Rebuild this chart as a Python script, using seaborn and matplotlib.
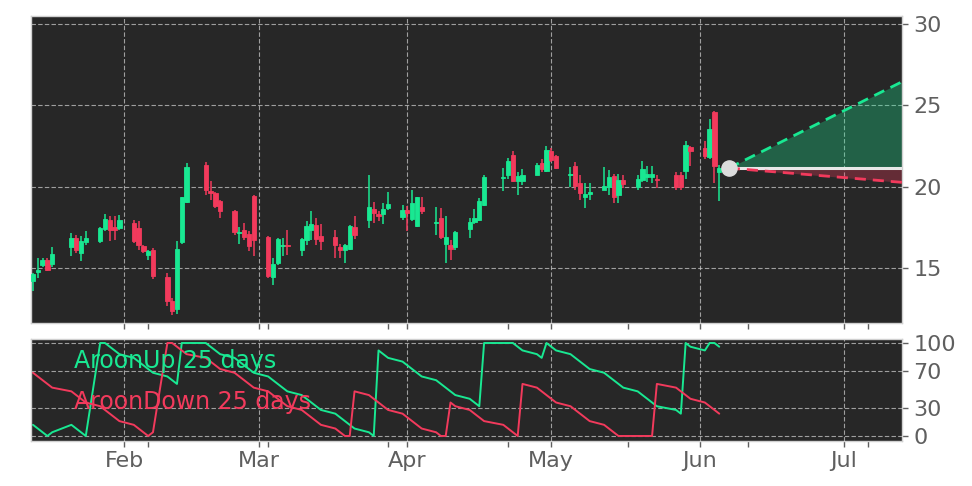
import pandas as pd
import seaborn as sns
import matplotlib.pyplot as plt
import matplotlib.dates as mdates
from matplotlib.ticker import FixedLocator

sns.set_theme(style='darkgrid')
plt.rcParams['font.family'] = ['DejaVu Sans']

# TRADING DAYS (2025)
days = ['01-13', '01-14', '01-15', '01-16', '01-17', '01-21', '01-22', '01-23', '01-24',
        '01-27', '01-28', '01-29', '01-30', '01-31',
        '02-03', '02-04', '02-05', '02-06', '02-07', '02-10', '02-11', '02-12', '02-13', '02-14',
        '02-18', '02-19', '02-20', '02-21', '02-24', '02-25', '02-26', '02-27', '02-28',
        '03-03', '03-04', '03-05', '03-06', '03-07', '03-10', '03-11', '03-12', '03-13', '03-14',
        '03-17', '03-18', '03-19', '03-20', '03-21', '03-24', '03-25', '03-26', '03-27', '03-28', '03-31',
        '04-01', '04-02', '04-03', '04-04', '04-07', '04-08', '04-09', '04-10', '04-11',
        '04-14', '04-15', '04-16', '04-17', '04-21', '04-22', '04-23', '04-24', '04-25',
        '04-28', '04-29', '04-30',
        '05-01', '05-02', '05-05', '05-06', '05-07', '05-08', '05-09', '05-12', '05-13', '05-14',
        '05-15', '05-16', '05-19', '05-20', '05-21', '05-22', '05-23', '05-27', '05-28', '05-29', '05-30',
        '06-02', '06-03', '06-04', '06-05']

open_ = [14.19, 14.74, 15.21, 15.52, 15.28, 16.28, 16.85, 15.93, 16.58, 16.64, 17.40, 17.98, 17.50, 17.47,
         17.77, 17.47, 16.38, 15.83, 16.13, 14.44, 13.01, 12.50, 16.58, 19.06, 21.35, 19.75, 19.61, 19.10,
         18.53, 17.18, 17.36, 17.12, 19.45,
         16.91, 14.44, 15.32, 16.38, 16.42, 16.09, 16.75, 17.36, 17.67, 16.99, 16.91, 16.28, 16.09, 16.18,
         17.50, 17.98, 18.63, 18.34, 18.34, 18.70, 18.12,
         18.59, 18.02, 17.61, 18.73, 17.78, 18.08, 16.48, 16.44, 16.28, 17.40, 17.81, 17.98, 18.90, 20.52,
         20.74, 21.96, 20.33, 20.37, 20.74, 21.49, 20.98,
         22.17, 21.90, 20.70, 21.25, 20.23, 19.40, 19.55, 19.82, 19.98, 20.68, 19.51, 20.43, 19.98, 20.43,
         20.60, 20.62, 20.49, 20.74, 20.74, 20.98, 22.47,
         22.37, 21.80, 24.62, 20.88]
high = [14.70, 15.63, 15.60, 15.60, 16.28, 17.16, 17.06, 16.95, 17.26, 17.50, 18.34, 18.18, 18.18, 18.28,
        17.98, 17.87, 16.45, 16.10, 16.24, 14.71, 13.19, 16.64, 19.40, 21.49, 21.55, 20.33, 19.65, 19.20,
        18.60, 17.53, 17.77, 17.26, 19.50,
        17.00, 15.64, 16.85, 16.85, 17.36, 16.85, 17.87, 18.53, 18.08, 17.73, 17.36, 16.50, 16.50, 17.65,
        18.22, 20.74, 19.04, 18.50, 19.00, 19.65, 18.90,
        18.80, 19.82, 19.40, 19.40, 18.75, 18.69, 18.18, 16.70, 17.30, 18.10, 18.65, 19.30, 20.70, 21.15,
        21.75, 22.20, 20.90, 21.10, 21.45, 21.70, 22.50,
        22.40, 21.95, 21.20, 21.50, 20.70, 20.20, 20.20, 21.20, 21.00, 20.80, 20.80, 20.70, 20.70, 21.60,
        21.30, 21.30, 20.70, 20.90, 20.90, 22.80, 22.50,
        22.80, 24.15, 24.65, 21.35]
low = [13.58, 14.40, 15.10, 14.80, 15.07, 15.72, 15.93, 15.42, 16.44, 16.55, 17.26, 16.64, 16.75, 17.36,
       16.55, 16.13, 15.95, 15.52, 14.34, 12.66, 12.15, 12.21, 16.50, 19.00, 19.51, 19.20, 18.69, 18.08,
       17.06, 16.50, 16.75, 16.03, 15.72,
       14.40, 13.99, 15.20, 15.72, 15.83, 15.72, 16.44, 16.75, 16.44, 16.13, 15.63, 15.63, 15.32, 16.10,
       16.80, 17.47, 17.77, 17.87, 17.70, 18.60, 17.97,
       17.26, 17.90, 17.55, 18.30, 17.06, 16.80, 15.32, 15.52, 16.10, 16.85, 17.70, 17.90, 18.80, 19.71,
       20.50, 20.30, 19.51, 20.10, 20.70, 20.90, 20.90,
       21.50, 21.10, 20.00, 19.80, 19.20, 18.70, 19.20, 19.80, 19.50, 19.00, 19.00, 19.90, 19.80, 20.30,
       20.30, 20.20, 19.90, 19.80, 19.80, 20.50, 21.30,
       21.70, 21.70, 20.23, 19.10]
close = [14.66, 14.91, 15.52, 14.91, 15.87, 16.85, 16.13, 16.64, 16.85, 17.47, 18.02, 17.36, 17.36, 17.98,
         16.64, 16.44, 16.03, 16.07, 14.54, 12.96, 12.35, 16.20, 19.34, 21.21, 19.82, 19.61, 18.83, 18.53,
         17.20, 17.25, 16.91, 16.38, 16.75,
         14.54, 15.28, 16.79, 16.42, 16.36, 16.79, 17.56, 17.73, 16.79, 16.69, 16.44, 16.09, 16.44, 17.61,
         17.06, 18.73, 18.39, 18.18, 18.63, 18.96, 18.59,
         18.39, 19.00, 19.34, 18.48, 17.84, 16.89, 16.91, 16.20, 17.20, 17.83, 18.08, 19.10, 20.57, 20.62,
         21.60, 20.37, 20.63, 20.74, 21.35, 21.09, 22.23,
         21.66, 21.15, 20.78, 20.06, 19.61, 19.55, 19.65, 20.06, 20.57, 19.37, 20.43, 20.18, 20.49, 21.10,
         20.80, 20.80, 20.39, 19.98, 20.00, 22.58, 22.21,
         21.86, 23.54, 21.25, 21.15]

aroon_up = [12, 8, 4, 0, 4, 12, 8, 4, 0, 100, 100, 96, 92, 88,
            84, 80, 76, 72, 68, 64, 60, 56, 100, 100, 100, 96, 92, 88, 84, 80, 76, 72, 68,
            64, 60, 56, 52, 48, 44, 40, 36, 32, 28, 24, 20, 16, 12, 8, 4, 0, 92, 88, 84, 80,
            76, 72, 68, 64, 60, 56, 52, 48, 44, 40, 36, 32, 100, 100, 100, 100, 96, 92, 88, 84, 100,
            96, 92, 88, 84, 80, 76, 72, 68, 64, 60, 56, 52, 48, 44, 40, 36, 32, 28, 24, 100, 96,
            92, 100, 100, 96]
aroon_down = [68, 64, 60, 56, 52, 48, 44, 40, 36, 32, 28, 24, 20, 16,
              12, 8, 4, 0, 4, 100, 100, 96, 92, 88, 84, 80, 76, 72, 68, 64, 60, 56, 52,
              48, 44, 40, 36, 32, 28, 24, 20, 16, 12, 8, 4, 0, 0, 48, 44, 40, 36, 32, 28, 24,
              20, 16, 12, 8, 4, 0, 0, 36, 32, 28, 24, 20, 16, 12, 8, 4, 0, 56, 52, 48, 44,
              40, 36, 32, 28, 24, 20, 16, 12, 8, 4, 0, 0, 0, 0, 0, 0, 56, 52, 48, 44, 40,
              36, 32, 28, 24]

# FORECAST CONE
fc_dates = ['2025-06-07 00:00', '2025-07-13 02:00']
fc_base = [21.15, 21.15]
fc_up = [21.15, 26.45]
fc_down = [21.15, 20.27]

minor_ticks = ['2025-02-06', '2025-03-03', '2025-03-28', '2025-04-22', '2025-05-17', '2025-06-11', '2025-07-06']

GREEN = '#19e892'
RED = '#f23a5c'
BG = '#272727'
GRAY = '#5f5f5f'

df = pd.DataFrame({'date': pd.to_datetime(['2025-' + d for d in days]),
                   'open': open_, 'high': high, 'low': low, 'close': close,
                   'up': aroon_up, 'down': aroon_down})
df['color'] = [GREEN if c >= o else RED for o, c in zip(df['open'], df['close'])]
fc = pd.DataFrame({'date': pd.to_datetime(fc_dates, format='%Y-%m-%d %H:%M'),
                   'base': fc_base, 'up': fc_up, 'down': fc_down})

fig = plt.figure(figsize=(9.72, 4.86), dpi=100, facecolor='white')
ax = fig.add_axes([31 / 972, 1 - 323 / 486, 871 / 972, 307 / 486])
ax2 = fig.add_axes([31 / 972, 1 - 441 / 486, 871 / 972, 102 / 486], sharex=ax)

# CANDLES
ax.vlines(df['date'], df['low'], df['high'], color=df['color'], lw=1.1, zorder=3)
ax.bar(df['date'], df['close'] - df['open'], bottom=df['open'], width=0.9,
       color=df['color'], edgecolor=df['color'], linewidth=0.6, zorder=4)

# FORECAST
ax.fill_between(fc['date'], fc['base'], fc['up'], color=GREEN, alpha=0.3, lw=0, zorder=2)
ax.fill_between(fc['date'], fc['base'], fc['down'], color=RED, alpha=0.3, lw=0, zorder=2)
sns.lineplot(data=fc, x='date', y='base', ax=ax, color='#e8e8e8', lw=2.2, zorder=5)
sns.lineplot(data=fc, x='date', y='up', ax=ax, color=GREEN, lw=2, ls=(0, (4, 2.5)), zorder=5)
sns.lineplot(data=fc, x='date', y='down', ax=ax, color=RED, lw=2, ls=(0, (4, 2.5)), zorder=5)
ax.scatter(fc['date'][:1], fc['base'][:1], s=120, color='#dcdcdc', zorder=6)

# AROON
sns.lineplot(data=df, x='date', y='up', ax=ax2, color=GREEN, lw=1.4, zorder=2)
sns.lineplot(data=df, x='date', y='down', ax=ax2, color=RED, lw=1.4, zorder=2)
ax2.text(0.049, 0.716, 'AroonUp 25 days', transform=ax2.transAxes, color=GREEN, fontsize=17, zorder=5)
ax2.text(0.049, 0.31, 'AroonDown 25 days', transform=ax2.transAxes, color=RED, fontsize=17, zorder=5)

for a in (ax, ax2):
    a.set_facecolor(BG)
    a.grid(True, which='major', ls=(0, (4, 2)), color='#c8c8c8', lw=0.8, alpha=0.75)
    a.yaxis.tick_right()
    a.tick_params(axis='y', which='both', right=True, left=False, length=4, width=1,
                  color=GRAY, labelcolor=GRAY, labelsize=16, pad=4)
    a.tick_params(axis='x', which='both', bottom=True, length=4, width=1,
                  color=GRAY, labelcolor=GRAY, labelsize=16)
    a.set_xlabel('')
    a.set_ylabel('')
    for s in a.spines.values():
        s.set_color('#d0d0d0')
        s.set_linewidth(1)

ax.set_ylim(11.63, 30.49)
ax.set_yticks([15, 20, 25, 30])
ax2.set_ylim(-5.4, 104.3)
ax2.set_yticks([0, 30, 70, 100])

ax2.xaxis.set_major_locator(mdates.MonthLocator())
ax2.xaxis.set_major_formatter(mdates.DateFormatter('%b'))
ax2.xaxis.set_minor_locator(FixedLocator(mdates.date2num(pd.to_datetime(minor_ticks))))
ax2.set_xlim(pd.Timestamp('2025-01-12 14:00'), pd.Timestamp('2025-07-13 02:00'))
ax.tick_params(axis='x', labelbottom=False)

plt.savefig('out.png', dpi=100)
